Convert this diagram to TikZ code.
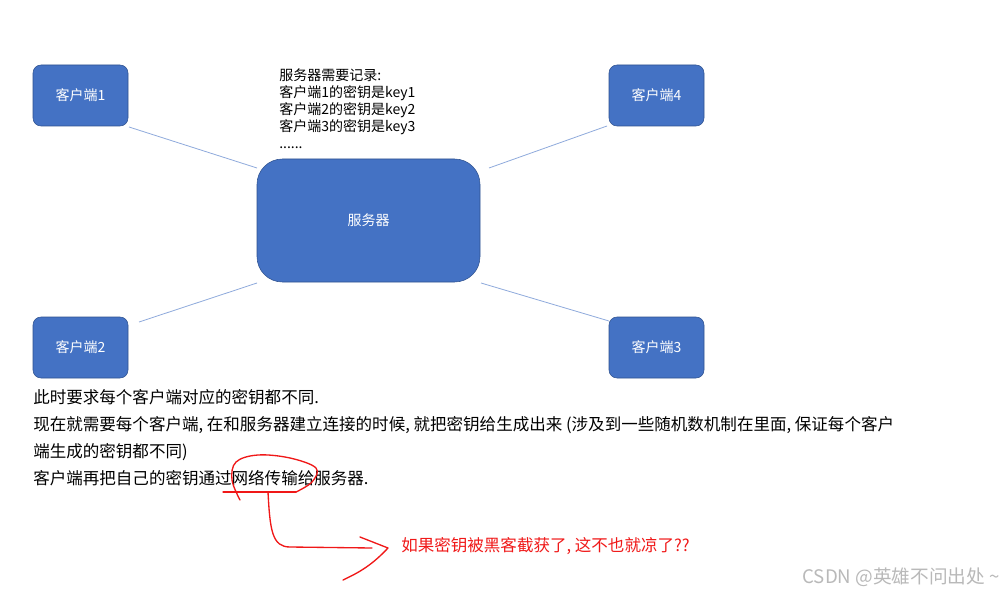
\documentclass[tikz,border=0pt]{standalone}
\usepackage{fontspec}
\setmainfont{Noto Sans CJK SC}
\usetikzlibrary{positioning}

\definecolor{boxblue}{HTML}{4472C4}
\definecolor{boxedge}{HTML}{2F528F}
\definecolor{linkblue}{HTML}{8FAADC}
\definecolor{markred}{HTML}{F01818}

\tikzset{
  client/.style = {draw = boxedge, fill = boxblue, rounded corners = 6pt, text = white,
                   minimum width = 71.25pt, minimum height = 45.75pt, font = \fontsize{10.5}{12}\selectfont},
  server/.style = {draw = boxedge, fill = boxblue, rounded corners = 19pt, text = white,
                   minimum width = 167.25pt, minimum height = 92.25pt, font = \fontsize{10.5}{12}\selectfont},
  link/.style = {draw = linkblue, line width = 0.6pt},
  pen/.style = {draw = markred, line width = 1pt, line cap = round, line join = round}
}

\begin{document}
\begin{tikzpicture}[x = 0.75pt, y = -0.75pt]
                \useasboundingbox[fill = white] (0,0) rectangle (1005,595);

                % clients and server
                \node[server] (srv) at (368.5,220.5) {服务器};
                \node[client] (c1) at (80.5,95.5) {客户端1};
                \node[client] (c4) at (656.5,95.5) {客户端4};
                \node[client] (c2) at (80.5,347.5) {客户端2};
                \node[client] (c3) at (656.5,347.5) {客户端3};

                \coordinate (s1) at (257,168);
                \coordinate (s4) at (489,168);
                \coordinate (s2) at (257,283);
                \coordinate (s3) at (481,283);
                \coordinate (e1) at (129,127);
                \coordinate (e4) at (607,126);
                \coordinate (e2) at (139,322);
                \coordinate (e3) at (609,321);
                \draw[link] (e1) -- (s1);
                \draw[link] (e4) -- (s4);
                \draw[link] (e2) -- (s2);
                \draw[link] (e3) -- (s3);

                \node[anchor = north west, align = left, inner sep = 0pt,
                      font = \fontsize{10.5}{12.75}\selectfont] (rec) at (279,68)
                     {服务器需要记录:\\客户端1的密钥是key1\\客户端2的密钥是key2\\客户端3的密钥是key3\\......};

                % explanation
                \node[anchor = north west, align = left, inner sep = 0pt,
                      font = \fontsize{12.4}{20.25}\selectfont] (txt) at (33,389)
                     {此时要求每个客户端对应的密钥都不同.\\
                      现在就需要每个客户端, 在和服务器建立连接的时候, 就把密钥给生成出来 (涉及到一些随机数机制在里面, 保证每个客户\\
                      端生成的密钥都不同)\\
                      客户端再把自己的密钥通过网络传输给服务器.};

                % red scribble
                \draw[pen] plot[smooth, tension = 0.6] coordinates {(240,500) (232,480) (236,462) (258,455) (290,458) (316,468) (312,482) (296,492)};
                \draw[pen] (223,492) -- (296,492);
                \draw[pen] (268,492) .. controls (270,530) and (272,547) .. (290,547) -- (372,548);
                \draw[pen] (360,537) -- (388,548) .. controls (372,565) and (360,572) .. (343,580);
                \node[anchor = west, text = markred, inner sep = 0pt,
                      font = \fontsize{12.4}{14}\selectfont] (q) at (401,546) {如果密钥被黑客截获了, 这不也就凉了??};

                \node[anchor = east, text = gray!55, inner sep = 0pt,
                      font = \fontsize{14}{16}\selectfont] (wm) at (1000,577) {CSDN @英雄不问出处 \textasciitilde};

            \end{tikzpicture}
\end{document}
